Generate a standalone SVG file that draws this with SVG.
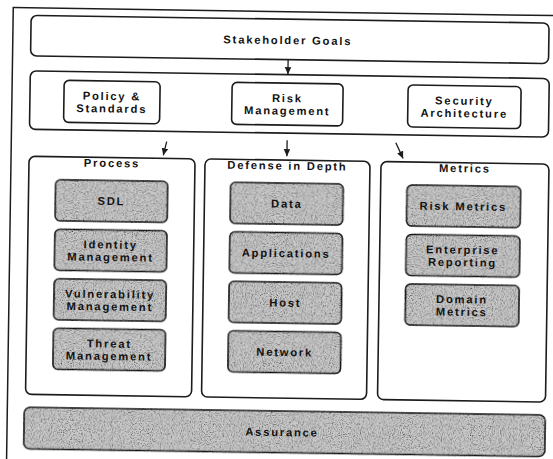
<svg xmlns="http://www.w3.org/2000/svg" width="553" height="459" viewBox="0 0 553 459">
  <defs>
    <style>
      .frame { fill: none; stroke: #1c1c1c; stroke-width: 1.5; }
      .box { fill: #ffffff; stroke: #1c1c1c; stroke-width: 1.6; }
      .gray { fill: #cacaca; stroke: #1c1c1c; stroke-width: 1.6; filter: url(#grain); }
      .t { font-family: "Liberation Sans", Arial, sans-serif; font-weight: bold; font-size: 11.2px; letter-spacing: 1.8px; fill: #111111; text-anchor: middle; }
      .conn { fill: none; stroke: #1c1c1c; stroke-width: 1.3; marker-end: url(#arrow); }
    </style>
    <filter id="grain" x="-0.05" y="-0.1" width="1.1" height="1.2">
      <feTurbulence type="fractalNoise" baseFrequency="0.9" numOctaves="2" seed="3" result="n"/>
      <feColorMatrix in="n" type="matrix" values="0 0 0 0 0  0 0 0 0 0  0 0 0 0 0  2.2 0 0 0 -0.95" result="a"/>
      <feComposite in="a" in2="SourceGraphic" operator="in" result="speck"/>
      <feMerge><feMergeNode in="SourceGraphic"/><feMergeNode in="speck"/></feMerge>
    </filter>
    <marker id="arrow" markerUnits="userSpaceOnUse" markerWidth="8" markerHeight="8" refX="7" refY="3.5" orient="auto">
      <path d="M0,0.2 L7,3.5 L0,6.8 z" fill="#1c1c1c"/>
    </marker>
  </defs>
  <rect width="553" height="459" fill="#ffffff"/>
  <g transform="rotate(0.85 276 230)">
    <rect class="frame" x="10" y="11.5" width="560" height="456"/>

    <g id="stakeholder-goals">
      <rect class="box" x="28" y="19" width="518" height="40.5" rx="6"/>
      <text class="t" x="285" y="44">Stakeholder Goals</text>
    </g>

    <g id="governance-row">
      <rect class="box" x="28" y="74.5" width="519" height="58.5" rx="6"/>
    </g>
    <g id="policy-standards">
      <rect class="box" x="62" y="83.5" width="96" height="42" rx="5"/>
      <text class="t" x="110" y="102.5">Policy &amp;</text>
      <text class="t" x="110" y="115">Standards</text>
    </g>
    <g id="risk-management">
      <rect class="box" x="230" y="83" width="111" height="42" rx="5"/>
      <text class="t" x="285.5" y="102">Risk</text>
      <text class="t" x="285.5" y="114.5">Management</text>
    </g>
    <g id="security-architecture">
      <rect class="box" x="406" y="83" width="113" height="42" rx="5"/>
      <text class="t" x="462.5" y="102">Security</text>
      <text class="t" x="462.5" y="114.5">Architecture</text>
    </g>

    <g id="process">
      <rect class="box" x="28" y="160" width="166" height="238" rx="6"/>
      <text class="t" x="111" y="169.5">Process</text>
    </g>
    <g id="sdl">
      <rect class="gray" x="55" y="183" width="112" height="41" rx="5"/>
      <text class="t" x="111" y="207.5">SDL</text>
    </g>
    <g id="identity-management">
      <rect class="gray" x="55" y="232.5" width="112" height="41" rx="5"/>
      <text class="t" x="111" y="251">Identity</text>
      <text class="t" x="111" y="263.5">Management</text>
    </g>
    <g id="vulnerability-management">
      <rect class="gray" x="55" y="282" width="112" height="41" rx="5"/>
      <text class="t" x="111" y="300.5">Vulnerability</text>
      <text class="t" x="111" y="313">Management</text>
    </g>
    <g id="threat-management">
      <rect class="gray" x="55" y="331.5" width="112" height="41" rx="5"/>
      <text class="t" x="111" y="350">Threat</text>
      <text class="t" x="111" y="362.5">Management</text>
    </g>

    <g id="defense-in-depth">
      <rect class="box" x="204" y="160" width="165" height="238" rx="6"/>
      <text class="t" x="286.5" y="169.5">Defense in Depth</text>
    </g>
    <g id="data">
      <rect class="gray" x="230" y="183" width="112.5" height="41" rx="5"/>
      <text class="t" x="286.5" y="207.5">Data</text>
    </g>
    <g id="applications">
      <rect class="gray" x="230" y="232.5" width="112.5" height="41" rx="5"/>
      <text class="t" x="286.5" y="257">Applications</text>
    </g>
    <g id="host">
      <rect class="gray" x="230" y="282" width="112.5" height="41" rx="5"/>
      <text class="t" x="286.5" y="306.5">Host</text>
    </g>
    <g id="network">
      <rect class="gray" x="230" y="331.5" width="112.5" height="41" rx="5"/>
      <text class="t" x="286.5" y="356">Network</text>
    </g>

    <g id="metrics">
      <rect class="box" x="380" y="160" width="168" height="238" rx="6"/>
      <text class="t" x="464" y="169.5">Metrics</text>
    </g>
    <g id="risk-metrics">
      <rect class="gray" x="406.5" y="183" width="113.5" height="41" rx="5"/>
      <text class="t" x="463" y="207.5">Risk Metrics</text>
    </g>
    <g id="enterprise-reporting">
      <rect class="gray" x="406.5" y="232.5" width="113.5" height="41" rx="5"/>
      <text class="t" x="463" y="251">Enterprise</text>
      <text class="t" x="463" y="263.5">Reporting</text>
    </g>
    <g id="domain-metrics">
      <rect class="gray" x="406.5" y="282" width="113.5" height="41" rx="5"/>
      <text class="t" x="463" y="300.5">Domain</text>
      <text class="t" x="463" y="313">Metrics</text>
    </g>

    <g id="assurance">
      <rect class="gray" x="27" y="411" width="521" height="41.5" rx="6"/>
      <text class="t" x="285" y="436">Assurance</text>
    </g>

    <g id="connectors">
      <path class="conn" d="M285.6,59.5 L285.6,74"/>
      <path class="conn" d="M165.4,143.3 L162.2,157"/>
      <path class="conn" d="M285.8,140 L285.8,156"/>
      <path class="conn" d="M394.5,141 L402,156.5"/>
    </g>
  </g>
</svg>
